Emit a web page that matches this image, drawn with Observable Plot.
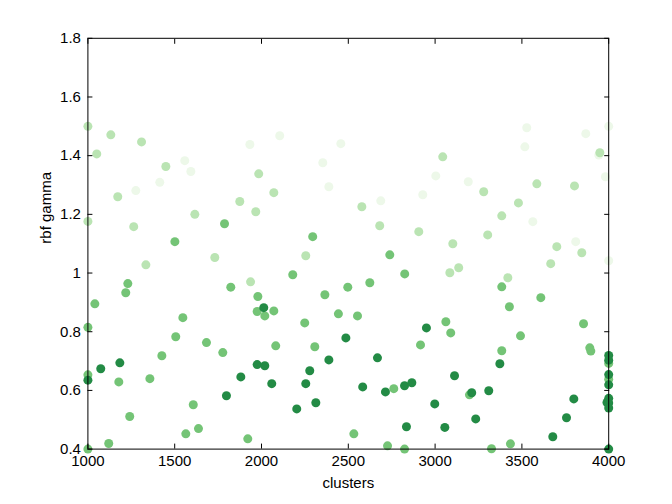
<!DOCTYPE html>
<html>
<head>
<meta charset="utf-8">
<script src="https://cdn.jsdelivr.net/npm/d3@7"></script>
<script src="https://cdn.jsdelivr.net/npm/@observablehq/plot@0.6"></script>
<style>
  html, body { margin: 0; padding: 0; background: #fff; }
</style>
</head>
<body>
<div id="chart"></div>
<script>
// Data
const clusters = [
  1000,1000,1000,1000,1000,1000,1051,1132,1309,1933,1449,1558,1593,1984,1414,1276,1172,1875,1967,1616,
  1787,1264,1501,1731,1334,1937,1230,1823,1218,1040,1979,1975,1547,1506,1683,1777,1426,1184,1074,1975,
  1881,1357,1178,1798,1607,1241,1637,1564,1921,1120,2105,2457,2353,2388,2071,2578,2687,2929,2681,2906,
  2295,2255,2739,2180,2825,2497,2624,2013,2019,2071,2365,2443,2553,2249,2950,2486,2082,2307,2916,2388,
  2668,2019,2278,2059,2255,2583,2714,2762,2824,2866,2313,2203,2835,2532,2726,2824,3528,4000,3868,3044,
  3517,3949,3943,3004,3981,3191,3280,3586,3803,3480,3384,3563,3102,3303,3701,3810,3845,4000,3666,3136,
  3085,3419,3384,3609,3428,3062,3090,3855,3492,3891,3897,3384,3373,3112,3211,3198,3309,2998,3799,3234,
  3757,3056,3678,3325,3434,4000,4000,4000,4000,4000,4000,4000,3990,4000,4000,4000
];
const gamma = [
  1.500,1.176,0.815,0.653,0.635,0.400,1.406,1.471,1.447,1.438,1.363,1.383,1.346,1.338,1.309,1.281,1.260,1.244,1.209,1.200,
  1.168,1.158,1.107,1.053,1.028,0.970,0.964,0.952,0.933,0.895,0.920,0.869,0.848,0.783,0.763,0.729,0.718,0.694,0.674,0.688,
  0.646,0.640,0.629,0.582,0.551,0.511,0.470,0.452,0.435,0.419,1.468,1.441,1.376,1.294,1.274,1.226,1.246,1.267,1.161,1.141,
  1.124,1.059,1.062,0.994,0.997,0.952,0.967,0.882,0.854,0.871,0.926,0.861,0.854,0.830,0.813,0.779,0.752,0.749,0.755,0.704,
  0.711,0.684,0.667,0.623,0.623,0.612,0.595,0.606,0.616,0.626,0.558,0.537,0.476,0.452,0.411,0.400,1.495,1.500,1.475,1.396,
  1.430,1.410,1.402,1.331,1.328,1.311,1.277,1.304,1.297,1.239,1.195,1.175,1.100,1.130,1.090,1.107,1.069,1.042,1.032,1.018,
  1.001,0.984,0.953,0.916,0.885,0.834,0.796,0.827,0.786,0.745,0.734,0.735,0.691,0.650,0.592,0.585,0.599,0.554,0.571,0.503,
  0.507,0.474,0.442,0.401,0.418,0.719,0.703,0.692,0.654,0.638,0.619,0.573,0.559,0.557,0.540,0.400
];
const level = [
  2,2,3,3,4,3,2,2,2,1,2,1,1,2,1,1,2,2,2,2,
  3,2,3,2,2,2,3,3,3,3,3,3,3,3,3,3,3,4,4,4,
  4,3,3,4,3,3,3,3,3,3,1,1,1,1,2,2,1,1,2,2,
  3,2,3,3,3,3,3,4,3,3,3,3,3,3,4,4,3,3,3,4,
  4,4,4,4,4,4,4,3,4,4,4,4,4,3,3,3,1,1,1,2,
  1,2,1,1,1,1,2,2,2,2,2,1,2,2,2,1,2,1,2,2,
  2,2,3,3,3,3,3,3,3,3,3,3,4,4,4,3,4,4,4,4,
  4,4,4,3,3,4,4,3,4,3,4,4,4,4,4,4
];
const levelDomain = [1, 2, 3, 4];
const levelColors = ["#edf8e9", "#bae4b3", "#74c476", "#238b45"];
const xTicks = [1000, 1500, 2000, 2500, 3000, 3500, 4000];
const yTicks = [0.4, 0.6, 0.8, 1.0, 1.2, 1.4, 1.6, 1.8];

const points = clusters.map((c, i) => ({clusters: c, gamma: gamma[i], level: level[i]}));

const font = "Liberation Sans, Arial, Helvetica, sans-serif";
const fs = 15;

const chart = Plot.plot({
  width: 672,
  height: 504,
  marginLeft: 87.4,
  marginRight: 63.8,
  marginTop: 37.8,
  marginBottom: 55.4,
  style: {fontFamily: font, fontSize: fs + "px", color: "black", background: "white", overflow: "visible"},
  x: {domain: [1000, 4000]},
  y: {domain: [0.4, 1.8]},
  color: {type: "ordinal", domain: levelDomain, range: levelColors},
  marks: [
    Plot.dot(points, {x: "clusters", y: "gamma", fill: "level", r: 4.5, stroke: "none", sort: d => d.level}),
    Plot.frame({stroke: "black", strokeWidth: 1}),
    Plot.axisX({anchor: "bottom", ticks: xTicks, tickSize: 0, tickPadding: 6, tickFormat: d => String(d), label: null, fontSize: fs}),
    Plot.axisX({anchor: "bottom", ticks: xTicks, tickSize: -5, tickFormat: () => "", label: null}),
    Plot.axisX({anchor: "top", ticks: xTicks, tickSize: -5, tickFormat: () => "", label: null}),
    Plot.axisY({anchor: "left", ticks: yTicks, tickSize: 0, tickPadding: 7, tickFormat: d => String(+d.toFixed(1)), label: null, fontSize: fs}),
    Plot.axisY({anchor: "left", ticks: yTicks, tickSize: -5, tickFormat: () => "", label: null}),
    Plot.axisY({anchor: "right", ticks: yTicks, tickSize: -5, tickFormat: () => "", label: null}),
    Plot.text(["clusters"], {text: d => d, frameAnchor: "bottom", dy: 39, fontSize: fs, fill: "black"}),
    Plot.text(["rbf gamma"], {text: d => d, frameAnchor: "left", dx: -42, rotate: -90, fontSize: fs, fill: "black"})
  ]
});
document.getElementById("chart").appendChild(chart);
</script>
</body>
</html>
